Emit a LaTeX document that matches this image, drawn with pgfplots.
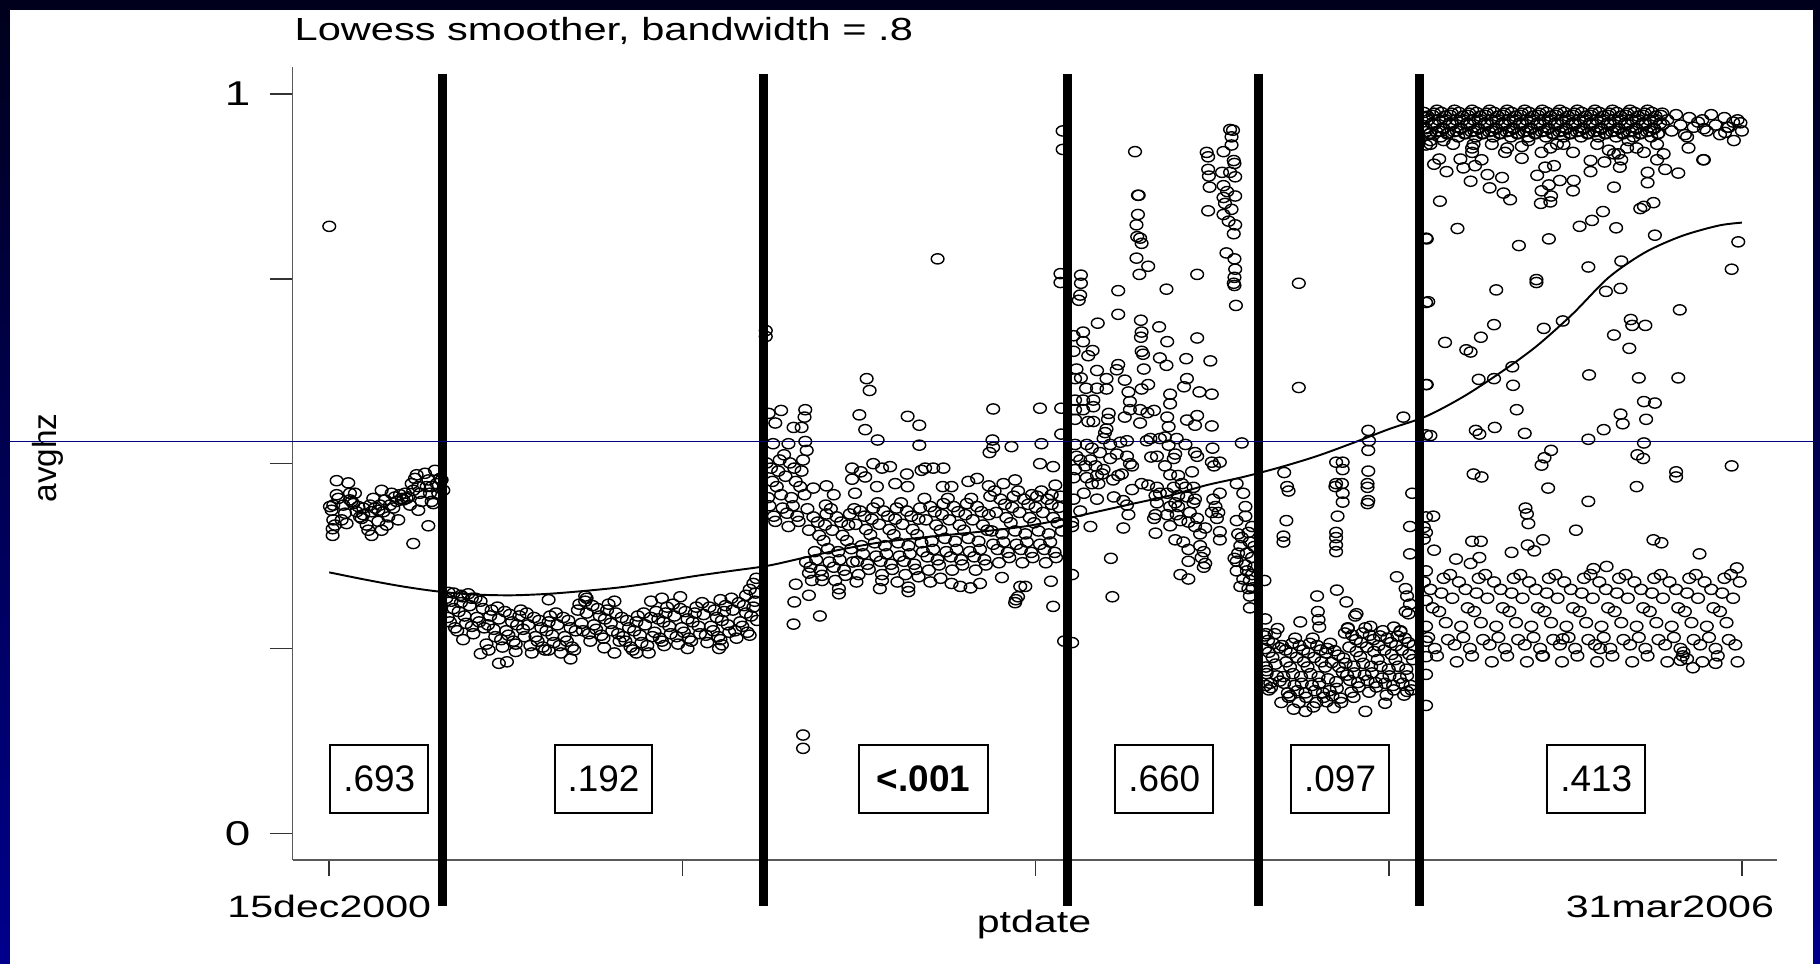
\documentclass[border=0pt]{standalone}
\usepackage{pgfplots}
\pgfplotsset{compat=1.18}
\usepackage{fontspec}
\setmainfont{Liberation Sans}
\usepackage{graphicx}
\newcommand{\sx}[1]{\scalebox{1.33}[1]{#1}}
\definecolor{navyline}{RGB}{0,0,128}
\begin{document}
\begin{tikzpicture}[x=1cm,y=1cm]
\useasboundingbox (0,0) rectangle (18.2,9.64);
\shade[top color={rgb,255:red,0;green,0;blue,28}, bottom color={rgb,255:red,0;green,0;blue,140}] (0,0) rectangle (18.2,9.64);
\fill[white] (0.105,0) rectangle (18.13,9.54);
\node[anchor=base west, inner sep=0, font=\fontsize{9.1}{11}\selectfont] at (2.94,9.234) {\scalebox{1.3}[1]{Lowess smoother, bandwidth = .8}};
\node[font=\fontsize{8.8}{10}\selectfont, inner sep=0] at (10.34,0.39) {\sx{ptdate}};
\node[rotate=90, font=\fontsize{9.5}{11}\selectfont, inner sep=0] at (0.475,5.06) {avghz};
\begin{axis}[
  at={(2.927cm,1.04cm)}, anchor=south west,
  scale only axis, width=14.843cm, height=7.93cm,
  xmin=-50, xmax=1980, ymin=-0.036, ymax=1.0365,
  axis x line*=bottom, axis y line*=left,
  axis line style={black!65, line width=0.45pt, -},
  every tick/.style={black!80, line width=0.45pt},
  tick align=outside,
  major tick length=0.23cm,
  xtick style={/pgfplots/major tick length=0.16cm},
  xtick={0,483,966,1449,1932},
  xticklabels={\sx{15dec2000},,,,\sx{31mar2006}\hspace*{1.44cm}},
  ytick={0,0.25,0.5,0.75,1},
  yticklabels={\sx{0},,,,\sx{1}},
  tick label style={font=\fontsize{8.8}{10}\selectfont, text=black},
  yticklabel style={xshift=-0.07cm, font=\fontsize{9.8}{11}\selectfont},
  clip=false,
  pts/.style={only marks, mark=o, mark size=1.45pt, mark options={xscale=1.25, line width=0.4pt, black}},
]
% segment 1
\addplot[pts] coordinates {
(0,.821)
(5.5,.444)(3.2,.437)(0.9,.442)(5.5,.424)(7.8,.417)(4.6,.412)(4.6,.403)(10.1,.458)(12.3,.453)(10.1,.477)(26,.474)(19.2,.444)(21.5,.433)(16.9,.424)(23.7,.419)(28.3,.460)(30.6,.449)(32.9,.446)(35.1,.460)(37.4,.435)(42,.428)(44.3,.426)(46.5,.431)(51.1,.417)(53.4,.410)(57.9,.403)(55.7,.444)(60.2,.453)(62.5,.440)(67.1,.437)(69.3,.444)(67.1,.422)(71.6,.410)(71.6,.464)(76.2,.451)(78.5,.417)(80.7,.428)(83,.444)(85.3,.460)(87.6,.440)(89.9,.455)(94.4,.424)(96.7,.458)(99,.453)(101.3,.451)(105.8,.453)(108.1,.455)(110.4,.444)(112.7,.473)(114.9,.464)(117.2,.480)(119.5,.485)(121.8,.469)(124.1,.460)(126.3,.449)(130.9,.487)(133.2,.469)(135.5,.478)(137.7,.460)(140,.449)(142.3,.446)(144.6,.491)(146.9,.473)(149.1,.460)(151.4,.480)(153.7,.478)(156,.464)(135.5,.416)(114.9,.392)(121.8,.437)(28.3,.451)(39.7,.442)(46.5,.440)(57.9,.435)(73.9,.435)(92.1,.449)(103.5,.460)(140,.469)
};
% segment 2
\addplot[pts] coordinates {
(160,.318)(165,.286)(170,.304)(175,.274)(180,.312)(185,.294)(190,.324)(195,.280)(200,.318)(205,.286)(210,.304)(215,.256)(220,.294)(225,.276)(230,.306)(235,.262)(240,.300)(245,.268)(250,.286)(255,.256)(260,.294)(265,.276)(270,.298)(275,.254)(280,.292)(285,.260)(290,.278)(295,.248)(300,.286)(305,.268)(310,.298)(315,.254)(320,.292)(325,.260)(330,.278)(335,.248)(340,.302)(345,.284)(350,.314)(355,.270)(360,.308)(365,.276)(370,.294)(375,.264)(380,.302)(385,.284)(390,.314)(395,.270)(400,.292)(405,.260)(410,.278)(415,.248)(420,.286)(425,.268)(430,.298)(435,.254)(440,.292)(445,.272)(450,.290)(455,.260)(460,.298)(465,.280)(470,.310)(475,.266)(480,.304)(485,.272)(490,.290)(495,.260)(500,.298)(505,.280)(510,.312)(515,.268)(520,.306)(525,.274)(530,.292)(535,.262)(540,.300)(545,.282)(550,.318)(555,.274)(560,.312)(565,.280)(570,.298)(575,.268)(580,.306)(585,.288)
(162,.292)(167,.314)(172,.278)(177,.300)(182,.320)(187,.284)(192,.308)(197,.270)(202,.292)(207,.314)(212,.278)(217,.282)(222,.302)(227,.266)(232,.290)(237,.252)(242,.274)(247,.296)(252,.260)(257,.282)(262,.302)(267,.266)(272,.282)(277,.244)(282,.266)(287,.288)(292,.252)(297,.274)(302,.294)(307,.258)(312,.282)(317,.244)(322,.266)(327,.288)(332,.252)(337,.274)(342,.310)(347,.274)(352,.298)(357,.260)(362,.282)(367,.304)(372,.268)(377,.290)(382,.310)(387,.274)(392,.298)(397,.260)(402,.266)(407,.288)(412,.252)(417,.274)(422,.294)(427,.258)(432,.282)(437,.244)(442,.266)(447,.300)(452,.264)(457,.286)(462,.306)(467,.270)(472,.294)(477,.256)(482,.278)(487,.300)(492,.264)(497,.286)(502,.306)(507,.270)(512,.296)(517,.258)(522,.280)(527,.302)(532,.266)(537,.288)(542,.308)(547,.272)(552,.302)(557,.264)(562,.286)(567,.308)(572,.272)(577,.294)(582,.314)
(183,.262)(207,.243)(218,.248)(232,.230)(243,.232)(255,.246)(300,.248)(330,.236)(376,.251)(390,.244)(420,.244)(458,.254)(490,.250)(533,.250)(537,.255)(570,.322)(575,.330)(580,.338)(584,.345)(583,.325)(163,.326)(170,.325)(180,.322)(195,.318)(300,.316)(350,.321)(352,.318)(440,.314)(455,.318)(480,.320)(535,.316)
};
% segment 3
\addplot[pts] coordinates {
(598,.501)(602,.443)(606,.476)(610,.422)(614,.490)(618,.458)(622,.512)(626,.433)(630,.501)(634,.443)(638,.476)(642,.422)(646,.490)(650,.458)(654,.439)(658,.360)(662,.428)(666,.370)(670,.403)(674,.349)(678,.417)(682,.385)(686,.439)(690,.360)(694,.428)(698,.370)(702,.403)(706,.349)(710,.417)(714,.385)(718,.439)(722,.368)(726,.436)(730,.378)(734,.411)(738,.357)(742,.425)(746,.393)(750,.447)(754,.368)(758,.436)(762,.378)(766,.411)(770,.357)(774,.425)(778,.393)(782,.447)(786,.368)(790,.436)(794,.378)(798,.411)(802,.357)(806,.425)(810,.393)(814,.453)(818,.374)(822,.442)(826,.384)(830,.417)(834,.363)(838,.431)(842,.399)(846,.453)(850,.374)(854,.442)(858,.384)(862,.417)(866,.363)(870,.431)(874,.399)(878,.453)(882,.374)(886,.442)(890,.384)(894,.417)(898,.363)(902,.431)(906,.409)(910,.463)(914,.384)(918,.452)(922,.394)(926,.427)(930,.373)(934,.441)(938,.409)(942,.463)(946,.384)(950,.452)(954,.394)(958,.427)(962,.373)(966,.441)(970,.409)(974,.463)(978,.384)(982,.452)(986,.394)(990,.427)(994,.373)(998,.441)(1002,.409)
(600,.454)(604,.494)(608,.429)(612,.469)(616,.505)(620,.440)(624,.483)(628,.415)(632,.454)(636,.494)(640,.429)(644,.469)(648,.505)(652,.367)(656,.410)(660,.342)(664,.381)(668,.421)(672,.356)(676,.396)(680,.432)(684,.367)(688,.410)(692,.342)(696,.381)(700,.421)(704,.356)(708,.396)(712,.432)(716,.367)(720,.418)(724,.350)(728,.389)(732,.429)(736,.364)(740,.404)(744,.440)(748,.375)(752,.418)(756,.350)(760,.389)(764,.429)(768,.364)(772,.404)(776,.440)(780,.375)(784,.418)(788,.350)(792,.389)(796,.429)(800,.364)(804,.404)(808,.440)(812,.381)(816,.424)(820,.356)(824,.395)(828,.435)(832,.370)(836,.410)(840,.446)(844,.381)(848,.424)(852,.356)(856,.395)(860,.435)(864,.370)(868,.410)(872,.446)(876,.381)(880,.424)(884,.356)(888,.395)(892,.435)(896,.370)(900,.410)(904,.456)(908,.391)(912,.434)(916,.366)(920,.405)(924,.445)(928,.380)(932,.420)(936,.456)(940,.391)(944,.434)(948,.366)(952,.405)(956,.445)(960,.380)(964,.420)(968,.456)(972,.391)(976,.434)(980,.366)(984,.405)(988,.445)(992,.380)(996,.420)(1000,.456)
(597,.680)(597,.672)(601,.568)(607,.527)(610,.555)(618,.572)(628,.527)(635,.549)(646,.549)(650,.563)(651,.573)(651,.530)(653,.518)(725,.566)(733,.546)(735,.615)(739,.599)(750,.532)(749,.469)(791,.564)(807,.552)(807,.525)(832,.777)(903,.515)(907,.532)(908,.574)(908,.522)(933,.523)(972,.575)(974,.527)(972,.500)(990,.496)
(715,.494)(727,.489)(733,.482)(744,.500)(756,.494)(767,.496)(774,.473)(790,.486)(791,.469)(810,.491)(815,.494)(826,.494)(840,.494)(839,.469)(851,.469)(874,.476)(886,.480)(902,.470)(922,.473)(938,.478)(961,.458)(988,.458)(993,.471)(680,.470)(690,.458)(715,.479)(719,.460)(679,.444)(662,.467)
(635,.283)(671,.294)(636,.313)(638,.337)(656,.322)(656,.352)(674,.342)(697,.331)(697,.324)(721,.340)(753,.331)(756,.342)(777,.340)(792,.333)(792,.327)(806,.347)(822,.340)(836,.345)(851,.338)(863,.334)(877,.332)(890,.338)(920,.346)(938,.312)(939,.316)(942,.320)(945,.334)(952,.334)(990,.307)(987,.341)(648,.133)(648,.115)
(1003,.950)(1003,.925)(1005,.260)(1000,.757)(1000,.745)(1001,.575)(1001,.540)
};
% segment 4
\addplot[pts] coordinates {
(1018,.673)(1031,.678)(1031,.665)(1025,.721)(1027,.728)(1028,.744)(1028,.755)(1051,.690)(1079,.734)(1079,.702)(1044,.653)(1038,.646)(1018,.652)(1022,.628)(1028,.616)(1020,.615)(1050,.626)(1063,.615)(1079,.634)(1077,.627)(1088,.613)(1035,.602)(1050,.602)(1063,.601)(1093,.597)(1095,.584)(1020,.586)(1031,.586)(1045,.586)(1020,.573)(1031,.573)(1045,.577)(1066,.568)(1065,.560)(1088,.563)(1109,.573)(1119,.569)(1128,.572)(1109,.555)(1095,.573)(1020,.560)(1038,.557)(1045,.557)(1061,.542)(1063,.547)(1059,.534)(1036,.526)(1043,.521)(1020,.526)(1022,.510)(1027,.505)(1041,.505)(1054,.515)(1068,.526)(1082,.529)(1091,.531)(1077,.513)(1068,.507)(1091,.510)(1098,.497)(1034,.497)(1048,.497)(1059,.492)(1084,.486)(1095,.500)(1020,.492)(1018,.481)(1036,.481)(1050,.484)(1057,.486)(1072,.478)(1079,.484)(1043,.473)(1052,.473)(1032,.460)(1050,.452)(1073,.455)(1086,.450)(1098,.465)(1027,.436)(1041,.415)(1086,.413)(1093,.431)(1091,.444)(1111,.473)(1120,.471)(1018,.452)(1016,.421)(1016,.415)
(1102,.922)(1106,.863)(1107,.863)(1106,.837)(1104,.823)(1105,.807)(1109,.805)(1111,.798)(1104,.778)(1120,.767)(1108,.756)(1145,.736)(1110,.694)(1111,.678)(1110,.671)(1111,.652)(1113,.648)(1114,.628)(1111,.601)(1120,.607)(1135,.685)(1146,.665)(1136,.643)(1145,.633)(1187,.756)(1187,.670)(1172,.642)(1205,.639)(1173,.615)(1169,.604)(1190,.597)(1207,.594)(1150,.594)(1150,.581)(1173,.559)(1187,.565)(1184,.552)(1207,.551)(1146,.563)(1148,.550)(1143,.536)(1159,.534)(1171,.526)(1148,.525)(1136,.534)(1118,.531)(1123,.534)(1124,.509)(1132,.510)(1143,.497)(1155,.507)(1157,.513)(1184,.515)(1187,.510)(1208,.521)(1207,.502)(1210,.497)(1218,.502)(1180,.489)(1161,.484)(1150,.485)(1166,.473)(1171,.468)(1182,.468)(1155,.468)(1132,.468)(1136,.460)(1130,.457)(1146,.460)(1161,.457)(1173,.455)(1184,.452)(1132,.447)(1157,.447)(1182,.447)(1150,.442)(1161,.442)(1130,.431)(1128,.426)(1146,.431)(1159,.431)(1177,.434)(1187,.426)(1209,.452)(1218,.460)(1212,.442)(1216,.434)(1214,.426)(1207,.434)(1130,.406)(1150,.416)(1164,.423)(1175,.421)(1184,.415)(1198,.413)(1157,.397)(1168,.394)(1191,.405)(1191,.389)(1196,.381)(1193,.373)(1198,.365)(1196,.360)(1175,.368)(1175,.384)(1164,.350)(1175,.344)(1218,.408)(1218,.397)
(1248,.528)(1241,.473)(1250,.460)(1253,.442)(1241,.423)(1253,.429)(1243,.405)(1257,.407)(1246,.389)(1259,.394)(1243,.379)(1255,.379)(1262,.373)(1241,.368)(1253,.363)(1241,.355)(1255,.355)(1262,.350)(1250,.344)(1259,.342)(1257,.331)(1259,.321)(1259,.305)(1246,.334)(1238,.372)(1248,.400)(1265,.388)(1265,.360)(1263,.332)(1262,.415)
(1069,.372)(1071,.320)(1016,.350)(1016,.258)
(1232,.952)(1236,.951)(1234,.942)(1234,.931)(1223,.922)(1200,.921)(1202,.915)(1237,.910)(1238,.906)(1202,.898)(1221,.894)(1232,.894)(1203,.889)(1239,.888)(1223,.876)(1204,.874)(1228,.868)(1239,.862)(1223,.860)(1225,.852)(1202,.842)(1223,.837)(1234,.844)(1230,.828)(1239,.823)(1237,.811)(1227,.785)(1238,.777)(1239,.763)(1238,.752)(1237,.744)(1238,.741)(1240,.714)
};
% segment 5
\addplot[pts] coordinates {
(1279,.267)(1282,.216)(1285,.245)(1288,.197)(1291,.257)(1294,.229)(1297,.277)(1300,.206)(1303,.254)(1306,.203)(1309,.232)(1312,.184)(1315,.244)(1318,.216)(1321,.264)(1324,.193)(1327,.254)(1330,.203)(1333,.232)(1336,.184)(1339,.244)(1342,.216)(1345,.264)(1348,.193)(1351,.254)(1354,.203)(1357,.232)(1360,.184)(1363,.244)(1366,.209)(1369,.257)(1372,.186)(1375,.247)(1378,.196)(1381,.225)(1384,.177)(1387,.237)(1390,.230)(1393,.278)(1396,.207)(1399,.268)(1402,.217)(1405,.246)(1408,.198)(1411,.258)(1414,.230)(1417,.278)(1420,.207)(1423,.268)(1426,.217)(1429,.246)(1432,.198)(1435,.254)(1438,.226)(1441,.274)(1444,.203)(1447,.264)(1450,.213)(1453,.242)(1456,.194)(1459,.254)(1462,.226)(1465,.274)(1468,.203)(1471,.264)(1474,.213)(1477,.242)(1480,.194)(1483,.254)
(1281,.225)(1284,.261)(1287,.203)(1290,.238)(1293,.270)(1296,.213)(1299,.251)(1302,.177)(1305,.212)(1308,.248)(1311,.190)(1314,.225)(1317,.257)(1320,.200)(1323,.238)(1326,.177)(1329,.212)(1332,.248)(1335,.190)(1338,.225)(1341,.257)(1344,.200)(1347,.238)(1350,.177)(1353,.212)(1356,.248)(1359,.190)(1362,.225)(1365,.250)(1368,.193)(1371,.231)(1374,.170)(1377,.205)(1380,.241)(1383,.183)(1386,.218)(1389,.271)(1392,.214)(1395,.252)(1398,.191)(1401,.226)(1404,.262)(1407,.204)(1410,.239)(1413,.271)(1416,.214)(1419,.252)(1422,.191)(1425,.226)(1428,.262)(1431,.204)(1434,.235)(1437,.267)(1440,.210)(1443,.248)(1446,.187)(1449,.222)(1452,.258)(1455,.200)(1458,.235)(1461,.267)(1464,.210)(1467,.248)(1470,.187)(1473,.222)(1476,.258)(1479,.200)(1482,.235)
(1335,.165)(1346,.171)(1364,.178)(1401,.184)(1417,.165)(1444,.176)(1474,.192)(1314,.186)(1285,.194)(1319,.168)(1279,.342)(1280,.290)(1281,.270)(1280,.250)(1282,.220)(1281,.200)
(1326,.744)(1326,.603)(1306,.488)(1310,.469)(1312,.463)(1309,.423)(1305,.402)(1305,.394)(1377,.502)(1386,.502)(1386,.492)(1377,.473)(1385,.473)(1376,.469)(1386,.460)(1386,.448)(1379,.429)(1377,.407)(1377,.400)(1377,.390)(1377,.381)(1378,.329)(1421,.545)(1422,.531)(1421,.518)(1421,.490)(1420,.473)(1420,.468)(1421,.450)(1420,.446)(1469,.563)(1481,.460)(1478,.415)(1478,.378)(1460,.347)(1472,.331)(1474,.321)(1472,.300)(1476,.297)(1478,.310)(1351,.321)(1352,.300)(1353,.289)(1354,.279)(1328,.286)(1391,.313)(1403,.294)(1405,.297)(1393,.277)(1424,.280)(1456,.279)(1465,.273)
};
% segment 6
\addplot[pts] coordinates {
(1497,.975)(1500,.953)(1503,.965)(1506,.947)(1509,.971)(1512,.959)(1515,.978)(1518,.950)
(1521,.975)(1524,.953)(1527,.965)(1530,.947)(1533,.971)(1536,.959)(1539,.978)(1542,.950)
(1545,.975)(1548,.953)(1551,.965)(1554,.947)(1557,.971)(1560,.959)(1563,.978)(1566,.950)
(1569,.975)(1572,.953)(1575,.965)(1578,.947)(1581,.971)(1584,.959)(1587,.978)(1590,.950)
(1593,.975)(1596,.953)(1599,.965)(1602,.947)(1605,.971)(1608,.959)(1611,.978)(1614,.950)
(1617,.975)(1620,.953)(1623,.965)(1626,.947)(1629,.971)(1632,.959)(1635,.978)(1638,.950)
(1641,.975)(1644,.953)(1647,.965)(1650,.947)(1653,.971)(1656,.959)(1659,.978)(1662,.950)
(1665,.975)(1668,.953)(1671,.965)(1674,.947)(1677,.971)(1680,.959)(1683,.978)(1686,.950)
(1689,.975)(1692,.953)(1695,.965)(1698,.947)(1701,.971)(1704,.959)(1707,.978)(1710,.950)
(1713,.975)(1716,.953)(1719,.965)(1722,.947)(1725,.971)(1728,.959)(1731,.978)(1734,.950)
(1737,.975)(1740,.953)(1743,.965)(1746,.947)(1749,.971)(1752,.959)(1755,.978)(1758,.950)
(1761,.975)(1764,.953)(1767,.965)(1770,.947)(1773,.971)(1776,.959)(1779,.978)(1782,.950)
(1785,.975)(1788,.953)(1791,.965)(1794,.947)(1797,.971)(1800,.959)(1803,.978)(1806,.950)
(1809,.975)(1812,.953)(1815,.965)(1818,.947)(1821,.971)(1824,.959)
(1499,.954)(1502,.970)(1505,.946)(1508,.960)(1511,.974)(1514,.949)(1517,.965)(1520,.942)
(1523,.954)(1526,.970)(1529,.946)(1532,.960)(1535,.974)(1538,.949)(1541,.965)(1544,.942)
(1547,.954)(1550,.970)(1553,.946)(1556,.960)(1559,.974)(1562,.949)(1565,.965)(1568,.942)
(1571,.954)(1574,.970)(1577,.946)(1580,.960)(1583,.974)(1586,.949)(1589,.965)(1592,.942)
(1595,.954)(1598,.970)(1601,.946)(1604,.960)(1607,.974)(1610,.949)(1613,.965)(1616,.942)
(1619,.954)(1622,.970)(1625,.946)(1628,.960)(1631,.974)(1634,.949)(1637,.965)(1640,.942)
(1643,.954)(1646,.970)(1649,.946)(1652,.960)(1655,.974)(1658,.949)(1661,.965)(1664,.942)
(1667,.954)(1670,.970)(1673,.946)(1676,.960)(1679,.974)(1682,.949)(1685,.965)(1688,.942)
(1691,.954)(1694,.970)(1697,.946)(1700,.960)(1703,.974)(1706,.949)(1709,.965)(1712,.942)
(1715,.954)(1718,.970)(1721,.946)(1724,.960)(1727,.974)(1730,.949)(1733,.965)(1736,.942)
(1739,.954)(1742,.970)(1745,.946)(1748,.960)(1751,.974)(1754,.949)(1757,.965)(1760,.942)
(1763,.954)(1766,.970)(1769,.946)(1772,.960)(1775,.974)(1778,.949)(1781,.965)(1784,.942)
(1787,.954)(1790,.970)(1793,.946)(1796,.960)(1799,.974)(1802,.949)(1805,.965)(1808,.942)
(1811,.954)(1814,.970)(1817,.946)(1820,.960)(1823,.974)
(1830,.965)(1836,.950)(1842,.972)(1848,.958)(1854,.945)(1860,.968)(1866,.955)(1872,.962)(1878,.965)(1884,.950)(1890,.972)(1896,.958)(1902,.945)(1908,.968)(1914,.955)(1920,.962)(1926,.965)(1932,.950)
(1506,.937)(1506,.932)(1524,.937)(1537,.932)(1563,.927)(1563,.921)(1565,.932)(1590,.932)(1608,.921)(1611,.927)(1631,.929)(1640,.937)(1658,.921)(1670,.927)(1679,.932)(1688,.932)(1701,.921)(1734,.932)(1750,.924)(1763,.919)(1777,.937)(1788,.927)(1798,.921)(1816,.932)(1825,.919)(1857,.942)(1859,.927)(1880,.953)(1880,.911)(1909,.948)(1921,.937)(1912,.955)(1930,.961)
(1511,.905)(1518,.912)(1528,.895)(1547,.912)(1551,.900)(1567,.903)(1576,.911)(1584,.891)(1561,.882)(1604,.887)(1587,.873)(1606,.866)(1615,.857)(1631,.913)(1652,.890)(1663,.901)(1675,.903)(1668,.877)(1658,.869)(1671,.862)(1670,.854)(1657,.852)(1683,.883)(1702,.883)(1701,.869)(1725,.910)(1725,.895)(1744,.908)(1757,.919)(1767,.911)(1765,.901)(1757,.874)(1775,.927)(1803,.894)(1803,.880)(1816,.911)(1827,.898)(1845,.893)(1879,.911)(1811,.853)(1793,.845)(1798,.848)(1519,.855)
(1543,.818)(1501,.804)(1627,.795)(1668,.804)(1710,.821)(1727,.829)(1742,.841)(1760,.819)(1813,.809)(1927,.800)(1918,.763)(1722,.766)(1767,.774)(1651,.749)(1651,.745)(1596,.735)(1746,.733)(1766,.737)(1503,.719)(1847,.708)(1687,.693)(1661,.683)(1780,.695)(1782,.687)(1800,.687)(1593,.688)(1526,.664)(1575,.671)(1555,.654)(1561,.651)(1757,.674)(1778,.656)(1618,.631)(1572,.614)(1593,.615)(1619,.606)(1723,.620)(1791,.616)(1845,.616)(1501,.607)(1624,.573)(1798,.584)(1813,.582)(1766,.567)(1769,.554)(1801,.560)(1743,.546)(1722,.533)(1506,.538)(1568,.545)(1573,.540)(1594,.549)(1635,.541)(1798,.528)
(1671,.518)(1662,.508)(1658,.498)(1789,.512)(1797,.507)(1918,.497)(1565,.486)(1576,.482)(1842,.489)(1842,.482)(1667,.467)(1788,.469)(1722,.449)(1636,.440)(1638,.432)(1640,.419)(1510,.429)(1705,.410)
(1497,.414)(1497,.398)(1511,.383)(1563,.395)(1575,.395)(1639,.390)(1648,.382)(1660,.397)(1617,.380)(1811,.397)(1822,.393)(1874,.378)(1541,.371)(1561,.365)(1573,.373)(1925,.359)(1747,.361)(1729,.358)
(1500,.968)(1500,.949)(1500,.931)(1500,.805)(1500,.718)(1500,.607)(1500,.539)(1500,.428)(1500,.407)(1500,.355)(1500,.315)(1500,.260)(1500,.239)(1500,.215)(1500,.173)
(1497,.340)(1503,.265)(1509,.305)(1515,.240)(1521,.325)(1527,.285)(1533,.350)(1539,.255)
(1545,.340)(1551,.265)(1557,.305)(1563,.240)(1569,.325)(1575,.285)(1581,.350)(1587,.255)
(1593,.340)(1599,.265)(1605,.305)(1611,.240)(1617,.325)(1623,.285)(1629,.350)(1635,.255)
(1641,.340)(1647,.265)(1653,.305)(1659,.240)(1665,.325)(1671,.285)(1677,.350)(1683,.255)
(1689,.340)(1695,.265)(1701,.305)(1707,.240)(1713,.325)(1719,.285)(1725,.350)(1731,.255)
(1737,.340)(1743,.265)(1749,.305)(1755,.240)(1761,.325)(1767,.285)(1773,.350)(1779,.255)
(1785,.340)(1791,.265)(1797,.305)(1803,.240)(1809,.325)(1815,.285)(1821,.350)(1827,.255)
(1833,.340)(1839,.265)(1845,.305)(1851,.240)(1857,.325)(1863,.285)(1869,.350)(1875,.255)
(1881,.340)(1887,.265)(1893,.305)(1899,.240)(1905,.325)(1911,.285)(1917,.350)(1923,.255)(1929,.340)
(1500,.280)(1506,.330)(1512,.250)(1518,.300)(1524,.345)(1530,.262)(1536,.318)(1542,.232)
(1548,.280)(1554,.330)(1560,.250)(1566,.300)(1572,.345)(1578,.262)(1584,.318)(1590,.232)
(1596,.280)(1602,.330)(1608,.250)(1614,.300)(1620,.345)(1626,.262)(1632,.318)(1638,.232)
(1644,.280)(1650,.330)(1656,.250)(1662,.300)(1668,.345)(1674,.262)(1680,.318)(1686,.232)
(1692,.280)(1698,.330)(1704,.250)(1710,.300)(1716,.345)(1722,.262)(1728,.318)(1734,.232)
(1740,.280)(1746,.330)(1752,.250)(1758,.300)(1764,.345)(1770,.262)(1776,.318)(1782,.232)
(1788,.280)(1794,.330)(1800,.250)(1806,.300)(1812,.345)(1818,.262)(1824,.318)(1830,.232)
(1836,.280)(1842,.330)(1848,.250)(1854,.300)(1860,.345)(1866,.262)(1872,.318)(1878,.232)
(1884,.280)(1890,.330)(1896,.250)(1902,.300)(1908,.345)(1914,.262)(1920,.318)(1926,.232)
(1848,.234)(1865,.224)(1852,.245)(1857,.236)(1896,.230)(1660,.240)(1738,.250)(1687,.263)
};
% lowess
\addplot[black, line width=0.55pt, smooth] coordinates {
(0,0.353)(50,0.343)(100,0.334)(150,0.327)(200,0.323)(250,0.322)(300,0.324)(350,0.328)(400,0.333)(450,0.340)(500,0.348)(550,0.355)(600,0.362)(650,0.373)(700,0.384)(750,0.393)(800,0.399)(850,0.404)(900,0.409)(950,0.415)(1000,0.424)(1050,0.435)(1100,0.446)(1150,0.457)(1200,0.471)(1250,0.482)(1300,0.495)(1350,0.510)(1400,0.528)(1450,0.547)(1500,0.564)(1550,0.590)(1600,0.622)(1650,0.658)(1700,0.702)(1750,0.752)(1800,0.786)(1850,0.808)(1900,0.822)(1932,0.826)
};
% vertical separators
\addplot[black, line width=2.56pt] coordinates {(155.5,-0.098) (155.5,1.027)};
\addplot[black, line width=2.56pt] coordinates {(593.3,-0.098) (593.3,1.027)};
\addplot[black, line width=2.56pt] coordinates {(1009.3,-0.098) (1009.3,1.027)};
\addplot[black, line width=2.56pt] coordinates {(1271.5,-0.098) (1271.5,1.027)};
\addplot[black, line width=2.56pt] coordinates {(1490.4,-0.098) (1490.4,1.027)};
% horizontal blue line
\addplot[navyline, line width=0.35pt] coordinates {(-437,0.53) (2030,0.53)};
% p-value boxes
\tikzset{pbox/.style={draw, line width=0.55pt, inner xsep=0.13cm, minimum height=0.68cm, font=\fontsize{10.5}{12}\selectfont}}
\node[pbox] at (axis cs:68.5,0.0735) {.693};
\node[pbox] at (axis cs:375,0.0735) {.192};
\node[pbox, inner xsep=0.18cm] at (axis cs:812.7,0.0735) {\textbf{<.001}};
\node[pbox] at (axis cs:1142,0.0735) {.660};
\node[pbox] at (axis cs:1382.5,0.0735) {.097};
\node[pbox] at (axis cs:1732.7,0.0735) {.413};
\end{axis}
\end{tikzpicture}
\end{document}
